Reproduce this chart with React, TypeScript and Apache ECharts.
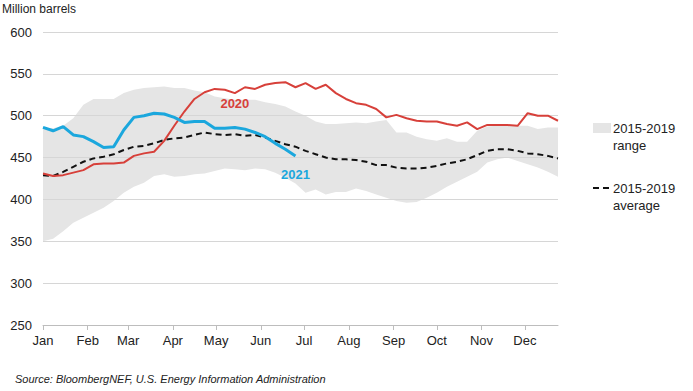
import React, { useEffect, useRef } from "react";
import * as echarts from "echarts";

// Month labels and their day-of-year positions
const monthNames = ["Jan", "Feb", "Mar", "Apr", "May", "Jun", "Jul", "Aug", "Sep", "Oct", "Nov", "Dec"];
const monthStarts = [0, 31, 59, 90, 120, 151, 181, 212, 243, 273, 304, 334];

// Weekly storage, million barrels (52 weeks)
const series2020 = [
  431, 428, 429, 432, 435, 442, 443, 443, 444, 452, 455, 457, 470, 488, 505, 520, 528, 532, 531, 527,
  534, 532, 537, 539, 540, 534, 539, 532, 537, 527, 520, 515, 513, 508, 498, 501, 497, 494, 493, 493,
  490, 488, 492, 484, 489, 489, 489, 488, 503, 500, 500, 494,
];
const series2021 = [
  486, 482, 487, 477, 475, 469, 462, 463, 483, 498, 500, 503, 502, 498, 492, 493, 493, 485, 485, 486,
  484, 480, 475, 467, 460, 452,
];
const average1519 = [
  429, 428, 433, 439, 445, 449, 451, 454, 459, 463, 464, 467, 471, 473, 474, 477, 480, 478, 477, 478,
  476, 477, 474, 470, 466, 463, 458, 454, 450, 448, 448, 447, 445, 441, 441, 438, 437, 437, 438, 440,
  443, 445, 448, 453, 458, 460, 460, 458, 455, 454, 452, 449,
];
const upper1519 = [
  486, 485, 488, 497, 513, 520, 520, 520, 527, 531, 533, 534, 535, 533, 533, 530, 528, 523, 521, 519,
  519, 519, 516, 514, 511, 505, 500, 493, 490, 490, 491, 492, 491, 493, 495, 480, 480, 475, 472, 470,
  473, 469, 469, 482, 487, 488, 489, 488, 488, 484, 486, 486,
];
const lower1519 = [
  350, 353, 362, 372, 378, 384, 390, 398, 408, 415, 420, 428, 430, 427, 428, 430, 431, 434, 437, 436,
  435, 437, 436, 432, 426, 419, 408, 412, 406, 409, 409, 413, 410, 406, 402, 398, 396, 397, 402, 408,
  415, 421, 427, 433, 444, 448, 450, 446, 442, 438, 433, 427,
];

const FONT = "Liberation Sans, Arial, sans-serif";
const RED = "#d7403a";
const BLUE = "#1ba7dd";
const BAND = "#e5e5e5";

// week index -> category label (day of year of each weekly reading)
const weekDays = lower1519.map((_, i) => String(i * 7));

export default function App() {
  const ref = useRef<HTMLDivElement>(null);
  useEffect(() => {
    if (!ref.current) return;
    const chart = echarts.init(ref.current, null, { renderer: "svg" });
    const option: any = {
      animation: false,
      backgroundColor: "#ffffff",
      textStyle: { fontFamily: FONT },
      grid: { left: 43, right: 135, top: 32, bottom: 66 },
      xAxis: [
        {
          type: "category",
          data: weekDays,
          boundaryGap: false,
          show: false,
        },
        {
          type: "value",
          min: 0,
          max: 357,
          position: "bottom",
          z: 2,
          axisLine: { show: true, lineStyle: { color: "#bdbdbd", width: 1 } },
          axisTick: { show: true, customValues: monthStarts, length: 5, lineStyle: { color: "#bdbdbd" } },
          axisLabel: {
            customValues: monthStarts,
            formatter: (v: number) => monthNames[monthStarts.indexOf(v)] ?? "",
            fontSize: 13,
            color: "#222",
            fontFamily: FONT,
            margin: 9,
          },
          splitLine: { show: false },
        },
      ],
      yAxis: {
        type: "value",
        min: 250,
        max: 600,
        interval: 50,
        z: 2,
        axisLine: { show: false },
        axisTick: { show: false },
        axisLabel: { fontSize: 13, color: "#222", fontFamily: FONT, margin: 11 },
        splitLine: { lineStyle: { color: "#d6d6d6", width: 1 } },
      },
      series: [
        {
          name: "lower",
          type: "line",
          xAxisIndex: 0,
          stack: "band",
          data: lower1519,
          symbol: "none",
          lineStyle: { width: 0 },
          silent: true,
          z: 1,
        },
        {
          name: "2015-2019 range",
          type: "line",
          xAxisIndex: 0,
          stack: "band",
          data: upper1519.map((u, i) => u - lower1519[i]),
          symbol: "none",
          lineStyle: { width: 0 },
          areaStyle: { color: BAND, opacity: 1 },
          silent: true,
          z: 1,
        },
        {
          name: "2015-2019 average",
          type: "line",
          xAxisIndex: 0,
          data: average1519,
          symbol: "none",
          lineStyle: { color: "#111", width: 2, type: [6, 4] },
          z: 3,
        },
        {
          name: "2020",
          type: "line",
          xAxisIndex: 0,
          data: series2020,
          symbol: "none",
          lineStyle: { color: RED, width: 2 },
          z: 4,
          markPoint: {
            symbol: "rect",
            symbolSize: 1,
            itemStyle: { color: "transparent" },
            label: {
              show: true,
              position: "inside",
              formatter: "2020",
              color: RED,
              fontWeight: "bold",
              fontSize: 13,
              fontFamily: FONT,
            },
            data: [{ coord: [18.9, 514] }],
          },
        },
        {
          name: "2021",
          type: "line",
          xAxisIndex: 0,
          data: series2021,
          symbol: "none",
          lineStyle: { color: BLUE, width: 3 },
          z: 5,
          markPoint: {
            symbol: "rect",
            symbolSize: 1,
            itemStyle: { color: "transparent" },
            label: {
              show: true,
              position: "inside",
              formatter: "2021",
              color: BLUE,
              fontWeight: "bold",
              fontSize: 13,
              fontFamily: FONT,
            },
            data: [{ coord: [25.1, 430] }],
          },
        },
      ],
      graphic: [
        {
          type: "text",
          left: 2,
          top: 3,
          style: { text: "Million barrels", font: `12px ${FONT}`, fill: "#222" },
        },
        {
          type: "text",
          left: 15,
          top: 373,
          style: {
            text: "Source: BloombergNEF, U.S. Energy Information Administration",
            font: `italic 11px ${FONT}`,
            fill: "#222",
          },
        },
        { type: "rect", shape: { x: 593, y: 123, width: 18, height: 10 }, style: { fill: BAND } },
        {
          type: "text",
          x: 613,
          y: 120,
          style: { text: "2015-2019\nrange", font: `13px ${FONT}`, fill: "#222", lineHeight: 17 },
        },
        {
          type: "line",
          shape: { x1: 593, y1: 188, x2: 611, y2: 188 },
          style: { stroke: "#111", lineWidth: 2, lineDash: [6, 4] },
        },
        {
          type: "text",
          x: 613,
          y: 180,
          style: { text: "2015-2019\naverage", font: `13px ${FONT}`, fill: "#222", lineHeight: 17 },
        },
      ],
    };
    chart.setOption(option);
    return () => chart.dispose();
  }, []);
  return (
    <div
      ref={ref}
      style={{ position: "absolute", left: 0, top: 0, width: 693, height: 391, background: "#fff" }}
    />
  );
}
